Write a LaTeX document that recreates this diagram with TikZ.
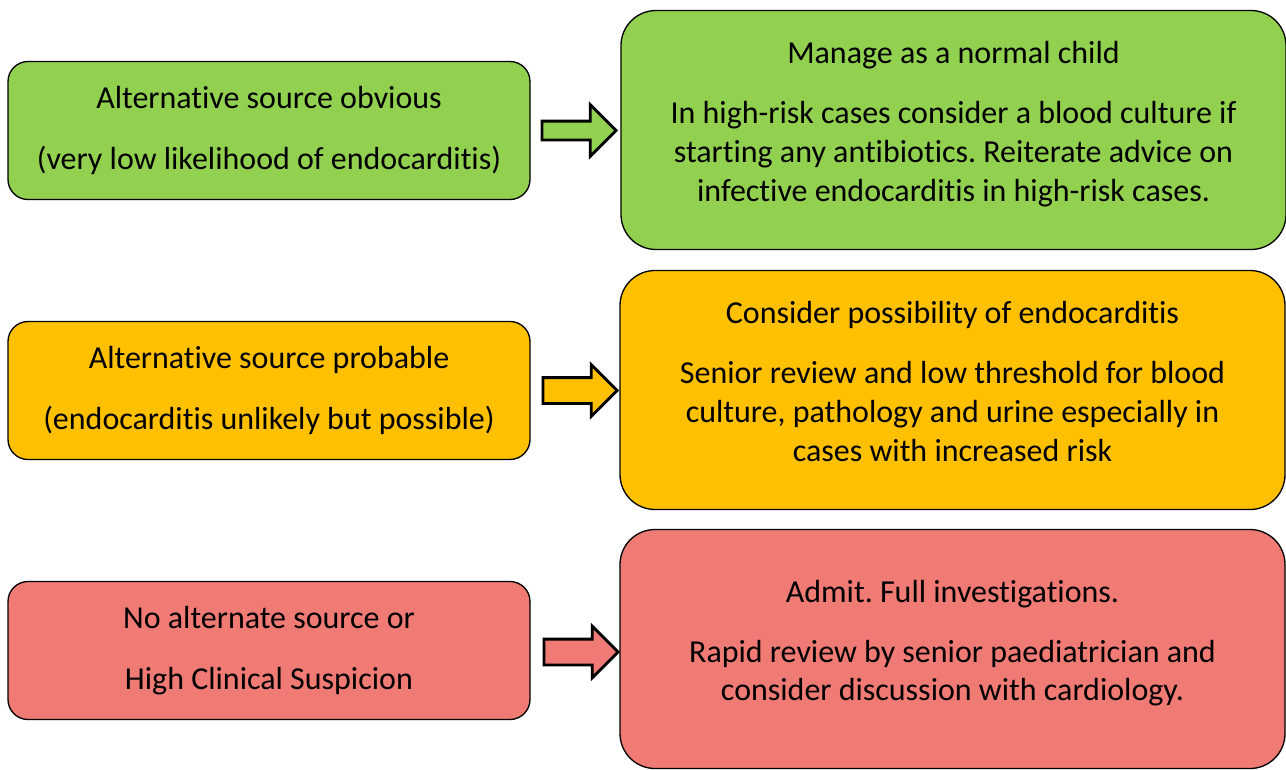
\documentclass[tikz,border=0pt]{standalone}
\usepackage{fontspec}
\setmainfont[Ligatures=NoCommon]{Carlito}
\frenchspacing
\usetikzlibrary{positioning, shapes.arrows}
\definecolor{okgreen}{RGB}{146,208,80}
\definecolor{warnamber}{RGB}{255,192,0}
\definecolor{alertred}{RGB}{240,122,116}
\tikzset{
    sourcebox/.style = {rectangle, draw, line width=0.75pt, rounded corners=0.4cm,
                        minimum width=10.44cm, minimum height=2.76cm, align=center},
    actionbox/.style = {rectangle, draw, line width=0.75pt, rounded corners=0.7cm,
                        minimum width=13.3cm, minimum height=4.78cm, align=center},
    blockarrow/.style = {single arrow, draw, line width=1.6pt, minimum height=1.48cm,
                        single arrow head extend=#1}
}

\begin{document}
\begin{tikzpicture}
			\tikzstyle{every node}=[font=\fontsize{18.2}{22.1}\selectfont]
			\useasboundingbox (0,0) rectangle (25.72,-15.38);
			\node (obvious) [sourcebox, fill=okgreen] at (5.38,-2.61) {Alternative source obvious\\[13pt](very low likelihood of endocarditis)};
			\node (probable) [sourcebox, fill=warnamber] at (5.38,-7.81) {Alternative source probable\\[13pt](endocarditis unlikely but possible)};
			\node (nosource) [sourcebox, fill=alertred] at (5.38,-13.01) {No alternate source or\\[13pt]High Clinical Suspicion};
			% right column, text sits a little above the middle
			\node (normal) [actionbox, fill=okgreen] at (19.07,-2.6) {Manage as a normal child\\[12pt]In high-risk cases consider a blood culture if\\starting any antibiotics. Reiterate advice on\\infective endocarditis in high-risk cases.\\[-12.4pt]\mbox{}};
			\node (consider) [actionbox, fill=warnamber] at (19.05,-7.8) {Consider possibility of endocarditis\\[12pt]Senior review and low threshold for blood\\culture, pathology and urine especially in\\cases with increased risk\\[-12.4pt]\mbox{}};
			\node (admit) [actionbox, fill=alertred] at (19.05,-12.98) {Admit. Full investigations.\\[12pt]Rapid review by senior paediatrician and\\consider discussion with cardiology.\\[-12.4pt]\mbox{}};
			\node (arr1) [blockarrow=0.33cm, fill=okgreen, inner sep=0.16cm, right=0.2cm of obvious.east, anchor=tail] {};
			\node (arr2) [blockarrow=0.26cm, fill=warnamber, inner sep=0.23cm, right=0.22cm of probable.east, anchor=tail] {};
			\node (arr3) [blockarrow=0.26cm, fill=alertred, inner sep=0.23cm, right=0.24cm of nosource.east, anchor=tail, yshift=-0.03cm] {};
		\end{tikzpicture}
\end{document}
